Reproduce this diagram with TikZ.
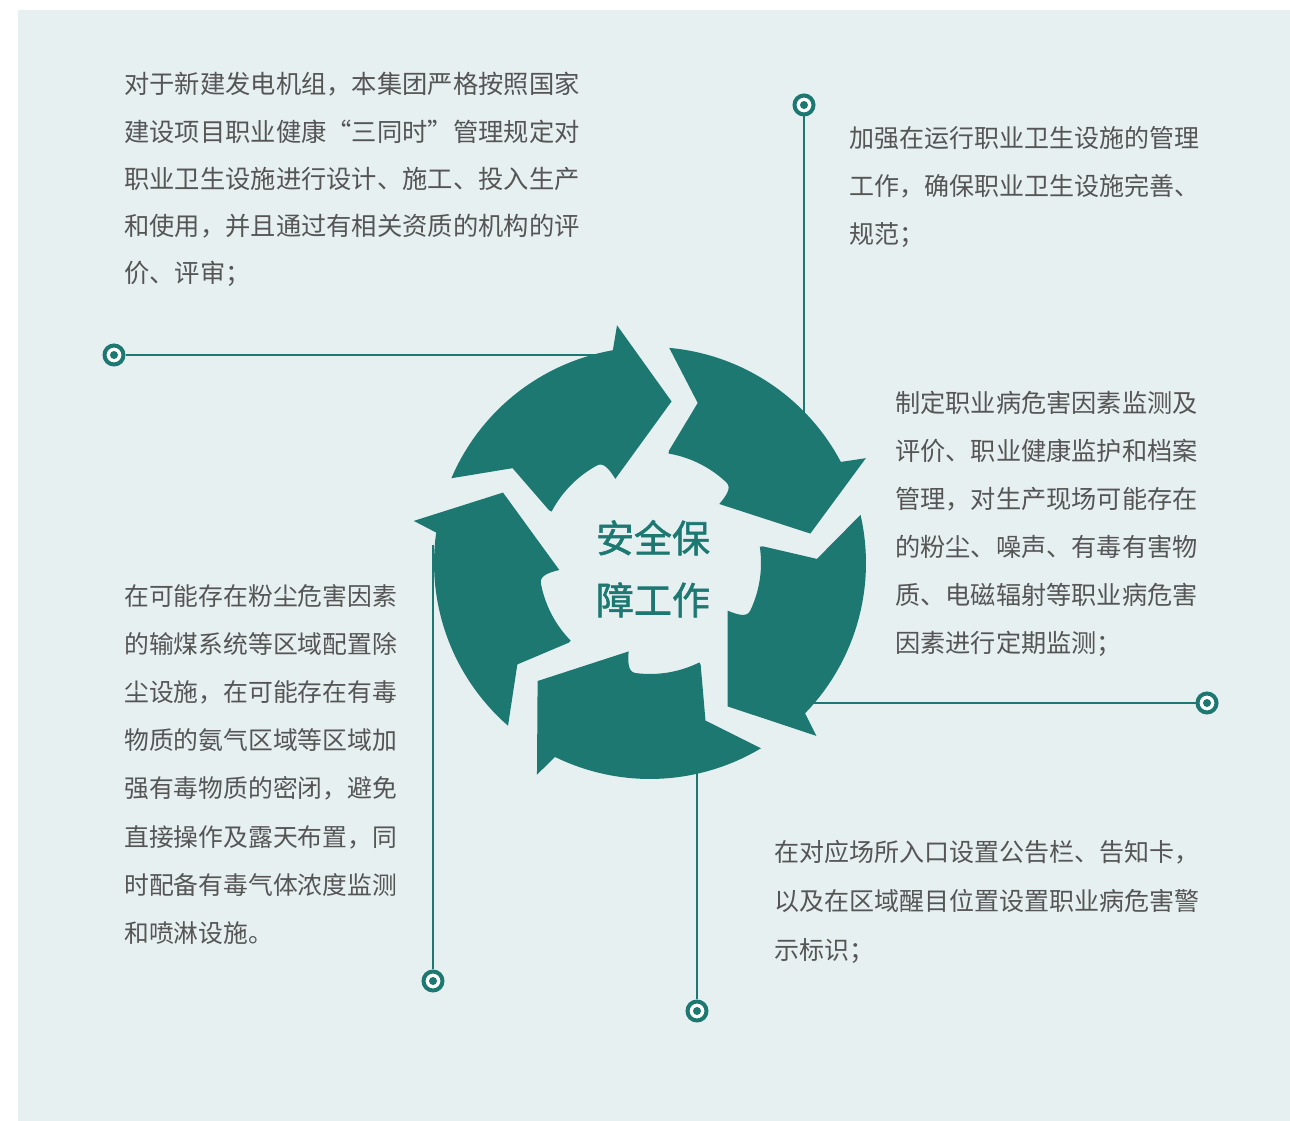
\documentclass[tikz,border=0pt]{standalone}
\usepackage{fontspec}
\newfontfamily\cjk{Noto Sans CJK SC}
\newfontfamily\cjkt[FakeBold=1.4]{Noto Sans CJK SC}
\definecolor{teal1}{HTML}{1D7872}
\definecolor{bgc}{HTML}{E7F0F1}
\definecolor{txtc}{HTML}{555555}
\newcommand\fwq[1]{{\addfontfeature{RawFeature=+fwid}#1}}
\tikzset{
  txt/.style={font=\cjk\fontsize{#1}{30}\selectfont, text=txtc, inner sep=0pt, anchor=base west},
  txt/.default=25,
  ttl/.style={font=\cjkt\fontsize{38}{44}\selectfont, text=teal1, inner sep=0pt, anchor=base},
  marker/.style={circle, draw=teal1, line width=4pt, fill=white, minimum size=19pt, inner sep=0pt},
  conn/.style={draw=teal1, line width=2.2pt},
  cyc/.style={fill=teal1}
}
\begin{document}
\begin{tikzpicture}[x=1pt,y=1pt]
\useasboundingbox (0,0) rectangle (1290,1121);
\fill[bgc] (18,0) rectangle (1290,1111);

% markers
\node[marker] (m1) at (114,766) {};
\node[marker] (m2) at (804,1016) {};
\node[marker] (m3) at (1207,418) {};
\node[marker] (m4) at (697,110) {};
\node[marker] (m5) at (433,140) {};
\foreach \m in {m1,m2,m3,m4,m5}{\fill[teal1] (\m.center) circle[radius=4pt];}

% connector ends (hidden under the arrows)
\coordinate (e1) at (620,766);
\coordinate (e2) at (804,691);
\coordinate (e3) at (800,418);
\coordinate (e4) at (697,361);
\coordinate (e5) at (433,576);
\draw[conn] (m1) -- (e1);
\draw[conn] (m2) -- (e2);
\draw[conn] (m3) -- (e3);
\draw[conn] (m4) -- (e4);
\draw[conn] (m5) -- (e5);

% cycle arrows
\foreach \k in {0,...,4}{
  \pgfmathsetmacro\rot{82.4-72*\k}
  \fill[cyc, shift={(650,558)}, rotate=\rot]
    (74.5:216) -- (63:167) -- (70:114)
    -- plot[domain=70:36, samples=18] (\x:111)
    .. controls (32:111) and (31:101) .. (30:91)
    -- (0:163) -- (15.5:240) -- (17.5:216)
    -- plot[domain=17.5:74.5, samples=30] (\x:216) -- cycle;
}

% title
\node[ttl] (t1) at (653,568.6) {安全保};
\node[ttl] (t2) at (653,506.6) {障工作};

% top-left block
\node[txt=25.3] (a1) at (124,1027) {对于新建发电机组，本集团严格按照国家};
\node[txt=25.3] (a2) at (124,979.8) {建设项目职业健康\fwq{“}三同时\fwq{”}管理规定对};
\node[txt=25.3] (a3) at (124,932.6) {职业卫生设施进行设计、施工、投入生产};
\node[txt=25.3] (a4) at (124,885.4) {和使用，并且通过有相关资质的机构的评};
\node[txt=25.3] (a5) at (124,838.2) {价、评审；};

% top-right block
\node[txt] (b1) at (849.5,973.5) {加强在运行职业卫生设施的管理};
\node[txt] (b2) at (849.5,925.5) {工作，确保职业卫生设施完善、};
\node[txt] (b3) at (849.5,877.5) {规范；};

% right block
\node[txt=25.2] (c1) at (895,708.5) {制定职业病危害因素监测及};
\node[txt=25.2] (c2) at (895,660.5) {评价、职业健康监护和档案};
\node[txt=25.2] (c3) at (895,612.5) {管理，对生产现场可能存在};
\node[txt=25.2] (c4) at (895,564.5) {的粉尘、噪声、有毒有害物};
\node[txt=25.2] (c5) at (895,516.5) {质、电磁辐射等职业病危害};
\node[txt=25.2] (c6) at (895,468.5) {因素进行定期监测；};

% bottom-right block
\node[txt] (d1) at (774,259.5) {在对应场所入口设置公告栏、告知卡，};
\node[txt] (d2) at (774,210.5) {以及在区域醒目位置设置职业病危害警};
\node[txt] (d3) at (774,161.5) {示标识；};

% left block
\node[txt=24.8] (f1) at (124,515.8) {在可能存在粉尘危害因素};
\node[txt=24.8] (f2) at (124,467.6) {的输煤系统等区域配置除};
\node[txt=24.8] (f3) at (124,419.4) {尘设施，在可能存在有毒};
\node[txt=24.8] (f4) at (124,371.2) {物质的氨气区域等区域加};
\node[txt=24.8] (f5) at (124,323) {强有毒物质的密闭，避免};
\node[txt=24.8] (f6) at (124,274.8) {直接操作及露天布置，同};
\node[txt=24.8] (f7) at (124,226.6) {时配备有毒气体浓度监测};
\node[txt=24.8] (f8) at (124,178.4) {和喷淋设施。};
\end{tikzpicture}
\end{document}
